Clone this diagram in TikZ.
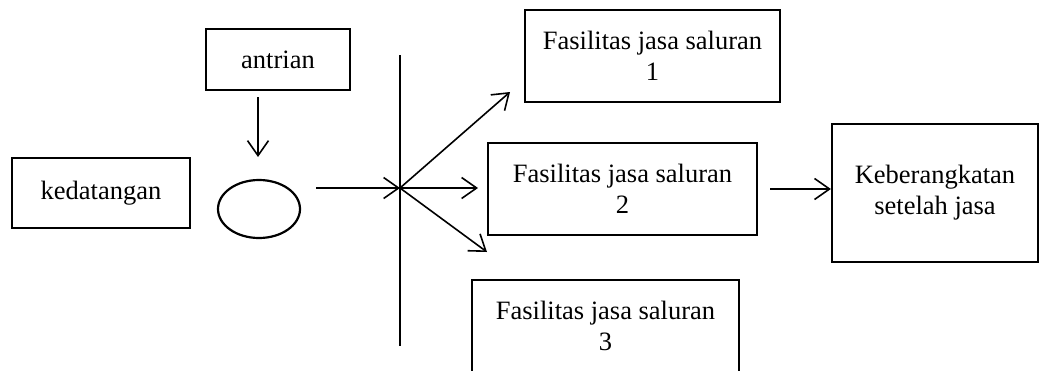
\documentclass[tikz,border=0pt]{standalone}
\usepackage{fontspec}
\setmainfont{Liberation Serif}
\usetikzlibrary{arrows.meta,shapes.geometric}
\begin{document}
\begin{tikzpicture}[x=1pt,y=-1pt,
  every node/.style={font=\fontsize{26.5}{31}\selectfont, align=center, inner sep=0pt},
  thinbox/.style={draw, line width=1.2pt, rectangle},
  thickbox/.style={draw, line width=2.2pt, rectangle},
  conn/.style={line width=1.6pt, -{Straight Barb[length=15pt,width=21pt,line width=1.6pt]}},
]
\useasboundingbox (0,0) rectangle (1040,370);
\clip (0,0) rectangle (1040,370);
\node[thinbox, minimum width=144pt, minimum height=61pt] (antrian) at (278,59.5) {antrian};
\node[thinbox, minimum width=178pt, minimum height=70pt] (kedatangan) at (101,193) {kedatangan};
\node[draw, ellipse, line width=2.2pt, minimum width=82pt, minimum height=58pt] (queue) at (259,209) {};
\coordinate (bartop) at (400,55);
\coordinate (barbot) at (400,346);
\draw[line width=1.6pt] (bartop) -- (barbot);
\coordinate (hub) at (400,188);
\node[thickbox, minimum width=255pt, minimum height=92pt] (s1) at (652.5,56) {Fasilitas jasa saluran\\1};
\node[thickbox, minimum width=269pt, minimum height=92pt] (s2) at (622.5,189) {Fasilitas jasa saluran\\2};
\node[thickbox, minimum width=267pt, minimum height=92pt] (s3) at (605.5,326) {Fasilitas jasa saluran\\3};
\node[thickbox, minimum width=206pt, minimum height=138pt] (keb) at (935,193) {Keberangkatan\\setelah jasa};
\coordinate (a1s) at (258,97);
\coordinate (a1e) at (258,157);
\draw[conn] (a1s) -- (a1e);
\coordinate (q1s) at (316,188);
\draw[conn] (q1s) -- (hub);
\coordinate (e1) at (510,92);
\coordinate (e2) at (478,188);
\coordinate (e3) at (487,252);
\draw[conn] (hub) -- (e1);
\draw[conn] (hub) -- (e2);
\draw[conn] (hub) -- (e3);
\coordinate (k1s) at (770,189);
\draw[conn] (k1s) -- (keb.west |- k1s);
\end{tikzpicture}
\end{document}
